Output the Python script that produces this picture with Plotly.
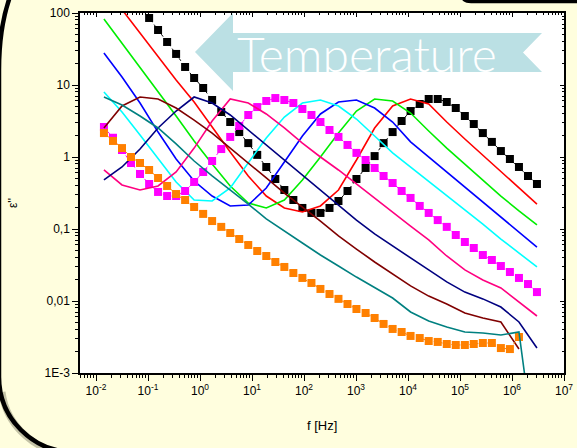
import plotly.graph_objects as go

# Measurement frequencies (Hz), high -> low, shared by all isotherms
FREQ = [3.02e6, 2.03e6, 1.36e6, 9.11e5, 6.11e5, 4.10e5, 2.75e5, 1.84e5, 1.24e5,
        8.29e4, 5.56e4, 3.73e4, 2.50e4, 1.68e4, 1.12e4, 7.54e3, 5.06e3, 3.39e3,
        2.28e3, 1.53e3, 1.02e3, 686, 460, 309, 207, 139, 93.1, 62.4, 41.9, 28.1,
        18.8, 12.6, 8.47, 5.68, 3.81, 2.56, 1.71, 1.15, 0.771, 0.517, 0.347,
        0.233, 0.156, 0.105, 0.0702, 0.0471, 0.0316, 0.0212, 0.0142]
F_LINE = FREQ[::2]

# Dielectric loss eps'' for each temperature
EPS_BLACK = [0.422, 0.545, 0.727, 0.938, 1.21, 1.62, 2.15, 2.87, 3.71, 4.79, 5.81,
             6.39, 6.39, 5.45, 4.35, 3.16, 2.22, 1.56, 1.03, 0.704, 0.495, 0.337,
             0.245, 0.196, 0.167, 0.167, 0.196, 0.253, 0.348, 0.495, 0.727, 1.07,
             1.56, 2.22, 3.06, 4.22, 6.19, 9.09, 12.5, 17.8, 27.0, 39.6, 58.1, 85.3]
EPS_RED = [0.222, 0.371, 0.639, 1.07, 1.78, 3.06, 5.45, 6.39, 5.11, 2.53, 0.909, 0.348,
           0.209, 0.172, 0.196, 0.287, 0.545, 1.17, 2.61, 5.81, 11.7, 24.5, 51.1, 110, 237]
EPS_GREEN = [0.114, 0.178, 0.287, 0.480, 0.800, 1.33, 2.30, 4.08, 6.00, 6.39, 4.35, 2.15,
             1.00, 0.480, 0.253, 0.196, 0.230, 0.396, 0.800, 1.67, 3.71, 8.00, 17.2, 37.1, 82.6]
EPS_BLUE = [0.0562, 0.0908, 0.147, 0.237, 0.383, 0.619, 1.00, 1.62, 3.06, 4.79, 6.19, 5.81,
            3.96, 1.96, 0.852, 0.371, 0.215, 0.209, 0.287, 0.464, 0.938, 2.22, 5.62, 12.9, 27.8]
EPS_CYAN = [0.0297, 0.0464, 0.0726, 0.117, 0.184, 0.287, 0.450, 0.704, 1.14, 1.96, 3.37, 5.11,
            6.19, 5.62, 3.59, 1.84, 0.826, 0.371, 0.245, 0.253, 0.450, 0.969, 2.02, 4.22, 8.00]
EPS_MAGENTA = [0.0133, 0.0172, 0.0209, 0.0253, 0.0306, 0.0371, 0.0435, 0.0545, 0.0660,
               0.0826, 0.107, 0.133, 0.167, 0.209, 0.270, 0.337, 0.435, 0.545, 0.704,
               0.909, 1.14, 1.47, 1.90, 2.37, 3.06, 3.83, 4.64, 5.62, 6.19, 6.59, 6.00,
               4.94, 3.83, 2.70, 1.90, 1.29, 0.880, 0.619, 0.450, 0.337, 0.287, 0.287,
               0.327, 0.422, 0.581, 0.826, 1.25, 1.85, 2.61]
EPS_PINK = [0.00619, 0.00969, 0.0152, 0.0196, 0.0270, 0.0422, 0.0704, 0.110, 0.172, 0.270,
            0.422, 0.660, 1.00, 1.56, 2.53, 3.96, 5.62, 6.39, 3.16, 1.33, 0.619, 0.396,
            0.348, 0.409, 0.660]
EPS_NAVY = [0.00222, 0.00511, 0.00825, 0.0107, 0.0133, 0.0184, 0.0270, 0.0396, 0.0581,
            0.0853, 0.133, 0.215, 0.348, 0.562, 0.909, 1.47, 2.37, 3.83, 5.62, 6.81, 4.35,
            2.53, 1.29, 0.727, 0.480]
EPS_MAROON = [None, 0.00215, 0.00511, 0.00581, 0.00681, 0.00908, 0.0117, 0.0162, 0.0237,
              0.0348, 0.0527, 0.0800, 0.129, 0.202, 0.316, 0.511, 0.826, 1.33, 2.15, 3.26,
              4.79, 6.39, 6.81, 5.11, 2.53]
EPS_ORANGE = [0.00316, 0.00215, 0.00222, 0.00261, 0.00261, 0.00253, 0.00245, 0.00245,
              0.00253, 0.00270, 0.00278, 0.00306, 0.00327, 0.00371, 0.00409, 0.0048,
              0.00581, 0.00681, 0.00774, 0.00908, 0.0107, 0.0125, 0.0147, 0.0178, 0.0209,
              0.0245, 0.0297, 0.0348, 0.0422, 0.0495, 0.060, 0.0726, 0.088, 0.107, 0.129,
              0.162, 0.202, 0.253, 0.306, 0.396, 0.511, 0.660, 0.826, 1.00, 1.33, 1.67, 2.15]
EPS_TEAL = [5e-5, 0.00371, 0.00337, 0.00359, 0.00371, 0.00435, 0.00528, 0.00704, 0.0110,
            0.0152, 0.0215, 0.0306, 0.0435, 0.0639, 0.0938, 0.138, 0.222, 0.348, 0.545,
            0.880, 1.52, 2.53, 3.71, 5.27, 6.81]

X_TICK_EXP = [-2, -1, 0, 1, 2, 3, 4, 5, 6, 7]
Y_TICK_VALS = [1e-3, 1e-2, 0.1, 1, 10, 100]
Y_TICK_TEXT = ["1E-3", "0,01", "0,1", "1", "10", "100"]

FONT = "Liberation Sans, Arial, sans-serif"
W, H = 577, 448
L, R, T, B = 80, 13, 13, 75

fig = go.Figure()


def squares(f, e, color):
    fig.add_trace(go.Scatter(x=f, y=e, mode="lines+markers",
                             line=dict(color=color, width=1, dash="dot"),
                             marker=dict(symbol="square", size=8, color=color,
                                         line=dict(width=0)),
                             showlegend=False, hoverinfo="skip"))


def curve(e, color):
    fig.add_trace(go.Scatter(x=F_LINE, y=e, mode="lines",
                             line=dict(color=color, width=1.6),
                             showlegend=False, hoverinfo="skip", connectgaps=False))


squares(FREQ[:len(EPS_BLACK)], EPS_BLACK, "#000000")
curve(EPS_RED, "#FF0000")
curve(EPS_GREEN, "#00EE00")
curve(EPS_BLUE, "#0000FF")
curve(EPS_CYAN, "#00FFFF")
squares(FREQ, EPS_MAGENTA, "#FF00FF")
curve(EPS_PINK, "#FF0080")
curve(EPS_NAVY, "#000080")
curve(EPS_MAROON, "#800000")
squares(FREQ[2:], EPS_ORANGE, "#FF8000")
curve(EPS_TEAL, "#008080")

# empty trace carrying the inner-tick frame axes (top / right)
fig.add_trace(go.Scatter(x=[], y=[], xaxis="x2", yaxis="y2", showlegend=False))

pw, ph = W - L - R, H - T - B


def P(x, y):
    return "%.5f,%.5f" % ((x - L) / pw, (H - B - y) / ph)


banner = ("M" + P(195, 52) + " L" + P(233, 13) + " L" + P(233, 33) + " L" + P(542, 33)
          + " L" + P(523, 52.5) + " L" + P(542, 72) + " L" + P(233, 72) + " L" + P(233, 91) + " Z")
frame_left = ("M" + P(11, -6) + " C" + P(3, 15) + " " + P(-1, 40) + " " + P(-1, 70)
              + " L" + P(-1, 377) + " C" + P(-1, 418.4) + " " + P(32.6, 452) + " " + P(74, 452)
              + " L" + P(640, 452))
frame_shadow = ("M" + P(2, 392) + " C" + P(6, 425) + " " + P(36, 455) + " " + P(78, 455))
frame_top = ("M" + P(462, -6) + " C" + P(463, 0) + " " + P(465, 1.5) + " " + P(471, 1.5)
             + " L" + P(640, 1.5))

shapes = [
    dict(type="path", xref="paper", yref="paper", path=banner,
         fillcolor="#BBE0E4", line=dict(width=0), layer="below"),
    dict(type="path", xref="paper", yref="paper", path=frame_shadow,
         line=dict(color="rgba(60,60,40,0.3)", width=7), layer="above"),
    dict(type="path", xref="paper", yref="paper", path=frame_left,
         line=dict(color="#000000", width=4.5), layer="above"),
    dict(type="path", xref="paper", yref="paper", path=frame_top,
         line=dict(color="#000000", width=3.5), layer="above"),
]

annotations = [
    dict(text="Temperature", xref="paper", yref="paper",
         x=(367 - L) / pw, y=(H - B - 53) / ph, xanchor="center", yanchor="middle",
         showarrow=False, font=dict(family="Lato, Open Sans, sans-serif", size=48,
                                    color="white", weight=300)),
    dict(text="f [Hz]", xref="paper", yref="paper", x=0.5, y=(H - B - 425) / ph,
         xanchor="center", yanchor="middle", showarrow=False,
         font=dict(family=FONT, size=13, color="black")),
    dict(text="ε''", xref="paper", yref="paper", x=(13 - L) / pw, y=(H - B - 203) / ph,
         xanchor="center", yanchor="middle", showarrow=False, textangle=-90,
         font=dict(family=FONT, size=12, color="black")),
]

axis_common = dict(type="log", showgrid=False, zeroline=False, showline=True,
                   linecolor="black", linewidth=1.5, automargin=False)

fig.update_layout(
    width=W, height=H, autosize=False,
    margin=dict(l=L, r=R, t=T, b=B, pad=0, autoexpand=False),
    paper_bgcolor="#FFFEDE", plot_bgcolor="white",
    font=dict(family=FONT, size=12, color="black"),
    shapes=shapes, annotations=annotations,
    xaxis=dict(**axis_common, range=[-2.308, 7], mirror=True,
               tickmode="array", tickvals=[10.0 ** e for e in X_TICK_EXP],
               ticktext=["10<sup>%d</sup>" % e for e in X_TICK_EXP],
               ticks="outside", ticklen=6, tickwidth=1, tickcolor="black",
               minor=dict(ticks="outside", ticklen=3, tickwidth=1, tickcolor="black",
                          dtick="D1", showgrid=False),
               tickfont=dict(family=FONT, size=12)),
    yaxis=dict(**axis_common, range=[-3, 2], mirror=True,
               tickmode="array", tickvals=Y_TICK_VALS, ticktext=Y_TICK_TEXT,
               ticks="outside", ticklen=6, tickwidth=1, tickcolor="black",
               minor=dict(ticks="outside", ticklen=3, tickwidth=1, tickcolor="black",
                          dtick="D1", showgrid=False),
               tickfont=dict(family=FONT, size=12)),
    xaxis2=dict(**axis_common, range=[-2.308, 7], overlaying="x", side="top",
                anchor="y2", showticklabels=False, dtick=1,
                ticks="inside", ticklen=4, tickcolor="black",
                minor=dict(ticks="inside", ticklen=2, tickcolor="black", dtick="D1")),
    yaxis2=dict(**axis_common, range=[-3, 2], overlaying="y", side="right",
                anchor="x2", showticklabels=False, dtick=1,
                ticks="inside", ticklen=4, tickcolor="black",
                minor=dict(ticks="inside", ticklen=2, tickcolor="black", dtick="D1")),
)

fig.write_html("out.html")
